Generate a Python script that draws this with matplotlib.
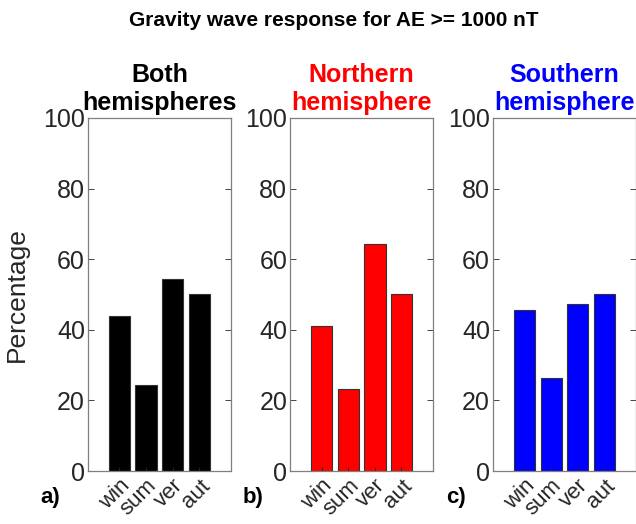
import numpy as np
import matplotlib
matplotlib.use("Agg")
import matplotlib.pyplot as plt

plt.rcParams['font.family'] = ['Liberation Sans', 'DejaVu Sans']

# data
seasons = ["win", "sum", "ver", "aut"]
both = [44.0, 24.3, 54.5, 50.0]
north = [41.2, 23.2, 64.3, 50.0]
south = [45.6, 26.3, 47.4, 50.0]

panels = [
    ("Both\nhemispheres", "black", both, "a)"),
    ("Northern\nhemisphere", "red", north, "b)"),
    ("Southern\nhemisphere", "blue", south, "c)"),
]
lefts = [0.138, 0.456, 0.775]

fig = plt.figure(figsize=(6.36, 5.24), dpi=100)
x = np.arange(1, len(seasons) + 1)
axcol = "#7f7f7f"

for i, (title, col, vals, lab) in enumerate(panels):
    ax = fig.add_axes([lefts[i], 0.101, 0.225, 0.674])
    ax.bar(x, vals, width=0.8, color=col, edgecolor="#333333", linewidth=0.8)
    ax.set_xlim(-0.19, 5.19)
    ax.set_ylim(0, 100)
    ax.set_yticks([0, 20, 40, 60, 80, 100])
    ax.set_xticks(x)
    ax.set_xticklabels(seasons, rotation=45, ha="right", va="top", fontsize=16,
                       rotation_mode="anchor")
    ax.tick_params(axis="y", labelsize=18, colors="#262626", direction="in",
                   right=True, length=4, width=0.6, pad=2)
    ax.tick_params(axis="x", direction="in", length=3, width=0.6, pad=3,
                   colors="#262626")
    for t in ax.get_yticklines() + ax.get_xticklines():
        t.set_color(axcol)
    for s in ax.spines.values():
        s.set_color(axcol)
        s.set_linewidth(0.9)
    ax.set_title(title, color=col, fontsize=18, fontweight="bold", pad=6,
                 linespacing=1.2)
    ax.text(-0.33, -0.075, lab, transform=ax.transAxes, fontsize=16,
            fontweight="bold", ha="left", va="center")
    if i == 0:
        ax.set_ylabel("Percentage", fontsize=19, color="#262626", labelpad=10)

fig.text(0.525, 0.96, "Gravity wave response for AE >= 1000 nT", fontsize=15,
         fontweight="bold", ha="center", va="center")

plt.savefig("out.png", dpi=100)
